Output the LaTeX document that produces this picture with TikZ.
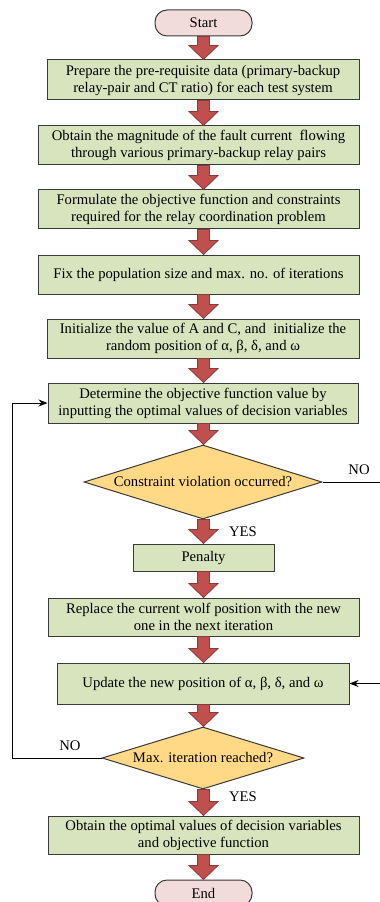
\documentclass[tikz,border=0pt]{standalone}
\usepackage{fontspec}
\setmainfont{Liberation Serif}
\usetikzlibrary{shapes.geometric,calc,arrows.meta}

\definecolor{boxgreen}{HTML}{D7E4BD}
\definecolor{termpink}{HTML}{F2DCDB}
\definecolor{decyellow}{HTML}{FFD985}
\definecolor{arrowred}{HTML}{C0504D}
\definecolor{arrowedge}{HTML}{8B3A38}
\definecolor{edgegray}{HTML}{3A3A3A}

\newlength\px
\setlength\px{0.75pt}

% 굵은 화살표 (start 노드의 x 위치에 맞춤)
\newcommand{\flowarrow}[2]{%
  \path (start |- #1.south) coordinate (fa1) (start |- #2.north) coordinate (fa2);
  \filldraw[blockarrow] ($(fa1)+(-6,0)$) -- ($(fa2)+(-6,-14)$) -- ($(fa2)+(-14.5,-14)$)
    -- (fa2) -- ($(fa2)+(14.5,-14)$) -- ($(fa2)+(6,-14)$) -- ($(fa1)+(6,0)$) -- cycle;
}

\begin{document}
\begin{tikzpicture}[
    x=1\px, y=-1\px,
    every node/.style={
        font=\fontsize{11}{12.75}\selectfont,
        align=center,
        inner sep=0pt
    },
    procbox/.style={
        rectangle,
        draw=edgegray,
        fill=boxgreen,
        line width=1\px,
        minimum height=39\px
    },
    termbox/.style={
        rectangle,
        rounded corners=12\px,
        draw=edgegray,
        fill=termpink,
        line width=1\px,
        minimum width=97\px,
        minimum height=26\px
    },
    decision/.style={
        diamond,
        aspect=3.2,
        draw=edgegray,
        fill=decyellow,
        line width=1\px
    },
    blockarrow/.style={
        fill=arrowred,
        draw=arrowedge,
        line width=0.8\px
    },
    flowline/.style={
        draw=black,
        line width=1\px
    }
]
\useasboundingbox (0,0) rectangle (379,902);

% 노드
\node[termbox] (start) at (203.5,23) {Start};
\node[procbox, minimum width=312\px, minimum height=40\px] (prep) at (203,80)
    {Prepare the pre-requisite data (primary-backup\\relay-pair and CT ratio) for each test system};
\node[procbox, minimum width=321\px] (fault) at (198.5,145.5)
    {Obtain the magnitude of the fault current\ \ flowing\\through various primary-backup relay pairs};
\node[procbox, minimum width=321\px] (formulate) at (198.5,209.5)
    {Formulate the objective function and constraints\\required for the relay coordination problem};
\node[procbox, minimum width=321\px] (popsize) at (198.5,274.5)
    {Fix the population size and max. no. of iterations};
\node[procbox, minimum width=312\px] (init) at (203,338.5)
    {Initialize the value of A and C, and\ \ initialize the\\random position of α, β, δ, and ω};
\node[procbox, minimum width=310\px, minimum height=40\px] (objval) at (203,403)
    {Determine the objective function value by\\inputting the optimal values of decision variables};
\node[decision, minimum width=238\px, minimum height=74\px] (violation) at (203,482)
    {Constraint violation occurred?};
\node[procbox, minimum width=141\px, minimum height=27\px] (penalty) at (203.5,557.5)
    {Penalty};
\node[procbox, minimum width=311\px, minimum height=38\px] (replace) at (203.5,617)
    {Replace the current wolf position with the new\\one in the next iteration};
\node[procbox, minimum width=292\px, minimum height=41\px] (update) at (203,683.5)
    {Update the new position of α, β, δ, and ω};
\node[decision, aspect=3.26, minimum width=202\px, minimum height=62\px] (maxiter) at (203,758)
    {Max. iteration reached?};
\node[procbox, minimum width=311\px, minimum height=38\px] (optimal) at (203.5,835)
    {Obtain the optimal values of decision variables\\and objective function};
\node[termbox] (end) at (203.5,893) {End};

% 굵은 화살표
\flowarrow{start}{prep}
\flowarrow{prep}{fault}
\flowarrow{fault}{formulate}
\flowarrow{formulate}{popsize}
\flowarrow{popsize}{init}
\flowarrow{init}{objval}
\flowarrow{objval}{violation}
\flowarrow{violation}{penalty}
\flowarrow{penalty}{replace}
\flowarrow{replace}{update}
\flowarrow{update}{maxiter}
\flowarrow{maxiter}{optimal}
\flowarrow{optimal}{end}

% 되돌림 선
\coordinate (rightrail) at (386,0);
\coordinate (leftrail) at (12,0);
\draw[flowline, -{Stealth[length=6.75pt,width=5.25pt]}] (violation.east) -- (rightrail |- violation.east)
    -- (rightrail |- update.east) -- (update.east);
\draw[flowline, -{Stealth[length=6.75pt,width=5.25pt]}] (maxiter.west) -- (leftrail |- maxiter.west)
    -- (leftrail |- objval.west) -- (objval.west);

% 라벨
\node (noviol) at (359,470) {NO};
\node (yesviol) at (243,532) {YES};
\node (noiter) at (70,746) {NO};
\node (yesiter) at (243,797) {YES};

\end{tikzpicture}
\end{document}
